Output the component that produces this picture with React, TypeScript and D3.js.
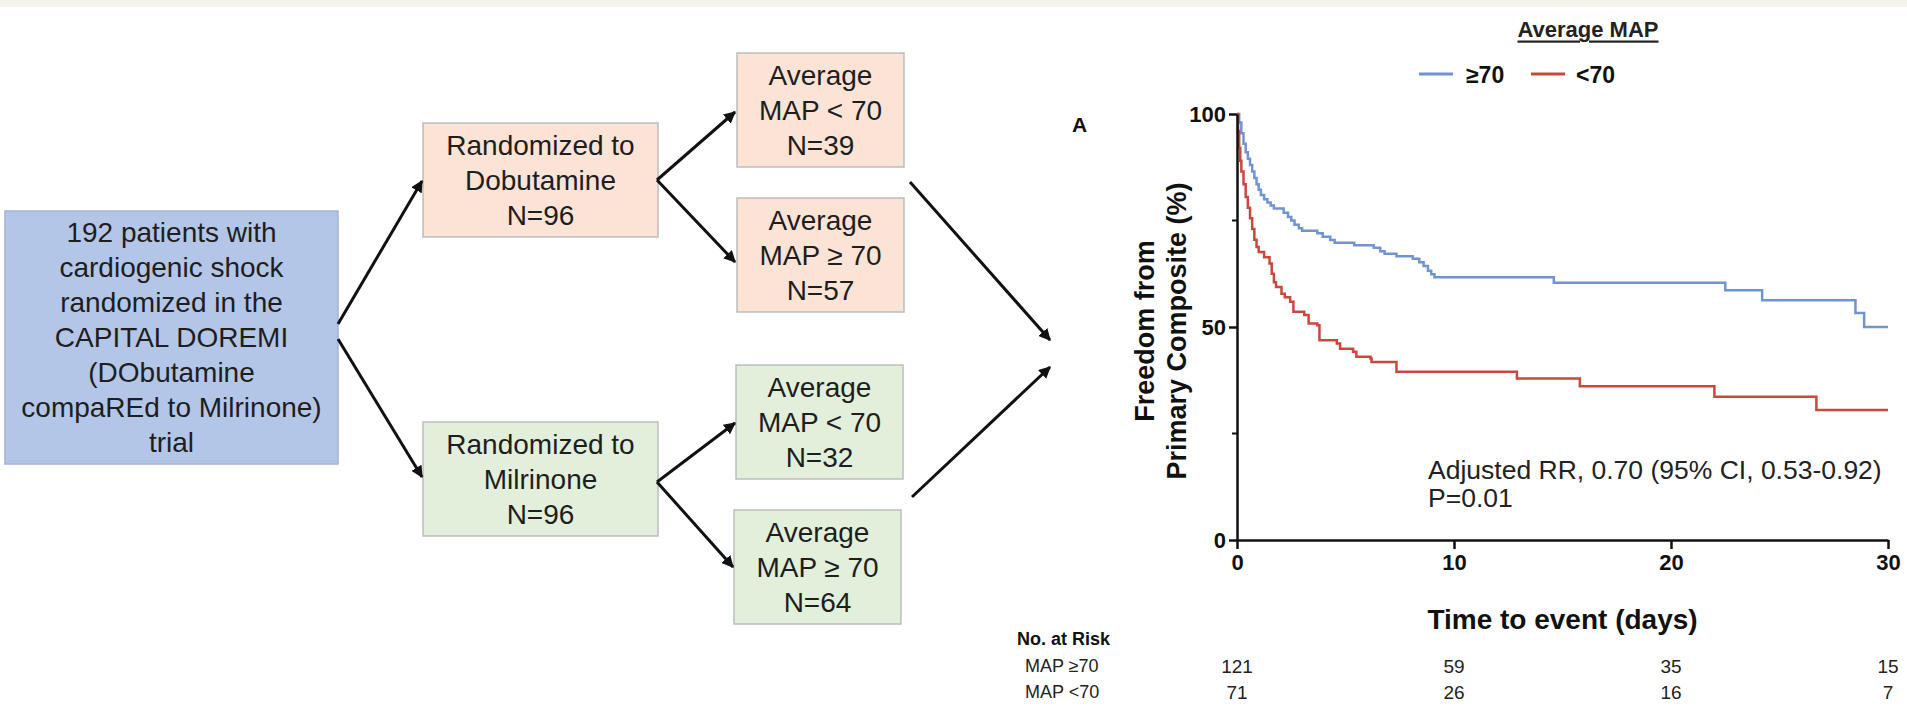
import React, { useRef, useEffect } from 'react';
import * as d3 from 'd3';

// Kaplan-Meier steps: day of each drop and freedom from event (%) after it
const highMapDays = [0, 0.1, 0.2, 0.3, 0.4, 0.5, 0.6, 0.7, 0.8, 0.9, 1.0, 1.1, 1.25, 1.4, 1.55, 1.7, 2.15, 2.35, 2.5, 2.65, 2.85, 3.0, 3.7, 3.95, 4.3, 4.5, 5.4, 6.3, 6.6, 6.8, 7.35, 8.1, 8.4, 8.6, 8.8, 8.95, 9.1, 14.6, 22.5, 24.2, 28.5, 28.9];
const highMapSurv = [100, 98, 95.5, 93, 91, 89.5, 88, 86.5, 85, 83.5, 82.2, 81, 80, 79.2, 78.5, 77.8, 76.8, 75.8, 75, 74, 73.2, 72.6, 72.0, 71.2, 70.4, 69.8, 69.2, 68.6, 67.8, 67.2, 66.6, 66.0, 65.2, 64.3, 63.2, 62.4, 61.7, 60.4, 58.6, 56.3, 53.3, 50];

const lowMapDays = [0, 0.05, 0.1, 0.15, 0.2, 0.3, 0.4, 0.5, 0.6, 0.7, 0.8, 0.9, 1.0, 1.25, 1.5, 1.6, 1.7, 1.8, 2.05, 2.2, 2.45, 2.6, 3.1, 3.3, 3.7, 3.8, 4.6, 4.75, 5.35, 5.5, 6.15, 6.2, 7.35, 12.9, 15.8, 22.0, 26.7];
const lowMapSurv = [100, 96, 92, 89, 86.5, 83.5, 80.5, 78, 75.5, 73, 70.5, 68.8, 67.6, 66.4, 64.9, 62.5, 60.5, 59.4, 57.8, 57, 55.9, 53.6, 52.8, 50.8, 50.4, 46.9, 46.1, 44.9, 44.2, 43, 42.6, 41.8, 39.5, 37.9, 36.1, 33.6, 30.5];

const xTicks = [0, 10, 20, 30];
const yTicks = [0, 50, 100];
const yMinorTicks = [25, 75];

const legendLabels = ['≥70', '<70'];
const riskLabels = ['MAP ≥70', 'MAP <70'];
const riskHigh = [121, 59, 35, 15];
const riskLow = [71, 26, 16, 7];

// flow chart text
const rootLines = ['192 patients with', 'cardiogenic shock', 'randomized in the', 'CAPITAL DOREMI', '(DObutamine', 'compaREd to Milrinone)', 'trial'];
const armLines = [
  ['Randomized to', 'Dobutamine', 'N=96'],
  ['Randomized to', 'Milrinone', 'N=96'],
];
const subgroupLines = [
  ['Average', 'MAP < 70', 'N=39'],
  ['Average', 'MAP ≥ 70', 'N=57'],
  ['Average', 'MAP < 70', 'N=32'],
  ['Average', 'MAP ≥ 70', 'N=64'],
];

const FONT = "'Liberation Sans', Arial, Helvetica, sans-serif";
const BLUE = '#7193cf';
const RED = '#c9483e';
const LINE_H = 35;

// boxes of the flow chart
const rootBox = { x: 5, y: 211, w: 333, h: 253 };
const armBoxes = [
  { x: 423, y: 123, w: 235, h: 114, fill: '#fbe3d6' },
  { x: 423, y: 422, w: 235, h: 114, fill: '#e2efda' },
];
const subBoxes = [
  { x: 737, y: 53, w: 167, h: 114, fill: '#fbe3d6' },
  { x: 737, y: 198, w: 167, h: 114, fill: '#fbe3d6' },
  { x: 736, y: 365, w: 167, h: 114, fill: '#e2efda' },
  { x: 734, y: 510, w: 167, h: 114, fill: '#e2efda' },
];
const arrows = [
  [338, 324, 422, 181],
  [338, 339, 422, 477],
  [657, 180, 735, 112],
  [657, 180, 735, 262],
  [657, 482, 735, 423],
  [657, 482, 733, 567],
  [910, 182, 1050, 340],
  [912, 497, 1050, 367],
];

const x = d3.scaleLinear().domain([0, 30]).range([1237, 1888]);
const y = d3.scaleLinear().domain([0, 100]).range([540, 114]);

const stepLine = d3
  .line<[number, number]>()
  .x((d) => x(d[0]))
  .y((d) => y(d[1]))
  .curve(d3.curveStepAfter);

const toPoints = (days: number[], surv: number[]): [number, number][] => {
  const pts = days.map((d, i) => [d, surv[i]] as [number, number]);
  pts.push([30, surv[surv.length - 1]]);
  return pts;
};

const BoxText = ({ lines, cx, cy }: { lines: string[]; cx: number; cy: number }) => (
  <text fontFamily={FONT} fontSize={28} fill="#1e1e1e" textAnchor="middle">
    {lines.map((l, i) => (
      <tspan key={i} x={cx} y={cy + (i - (lines.length - 1) / 2) * LINE_H} dominantBaseline="central">
        {l}
      </tspan>
    ))}
  </text>
);

const App = () => {
  const axesRef = useRef<SVGGElement>(null);

  useEffect(() => {
    const g = d3.select(axesRef.current);
    g.selectAll('*').remove();

    const yAxis = d3.axisLeft(y).tickValues(yTicks).tickSize(8).tickSizeOuter(0).tickPadding(3);
    const xAxis = d3.axisBottom(x).tickValues(xTicks).tickSize(9).tickSizeOuter(0).tickPadding(5);

    g.append('g').attr('transform', `translate(${x(0)},0)`).call(yAxis);
    g.append('g').attr('transform', `translate(0,${y(0)})`).call(xAxis);

    // minor ticks at 25 and 75
    g.append('g')
      .selectAll('line')
      .data(yMinorTicks)
      .join('line')
      .attr('x1', x(0) - 5)
      .attr('x2', x(0))
      .attr('y1', (d) => y(d))
      .attr('y2', (d) => y(d))
      .attr('stroke', '#111')
      .attr('stroke-width', 2);

    g.selectAll('.domain, .tick line').attr('stroke', '#111').attr('stroke-width', 2.5);
    g.selectAll('.tick text')
      .attr('font-family', FONT)
      .attr('font-size', 22)
      .attr('font-weight', 'bold')
      .attr('fill', '#111');
  }, []);

  return (
    <svg width={1907} height={707} style={{ display: 'block', background: '#fff' }}>
      <style>{`body{margin:0}`}</style>
      <defs>
        <marker id="head" viewBox="0 0 10 10" refX="9" refY="5" markerWidth="12" markerHeight="12"
          markerUnits="userSpaceOnUse" orient="auto">
          <path d="M0,0 L10,5 L0,10 z" fill="#111" />
        </marker>
      </defs>
      <rect x={0} y={0} width={1907} height={7} fill="#f3f3ea" />

      {/* flow chart */}
      <rect x={rootBox.x} y={rootBox.y} width={rootBox.w} height={rootBox.h} fill="#b4c6e7" stroke="#a3b3d3" strokeWidth={1.5} />
      <BoxText lines={rootLines} cx={rootBox.x + rootBox.w / 2} cy={rootBox.y + rootBox.h / 2} />
      {armBoxes.map((b, i) => (
        <g key={i}>
          <rect x={b.x} y={b.y} width={b.w} height={b.h} fill={b.fill} stroke="#bdbdbd" strokeWidth={1.5} />
          <BoxText lines={armLines[i]} cx={b.x + b.w / 2} cy={b.y + b.h / 2} />
        </g>
      ))}
      {subBoxes.map((b, i) => (
        <g key={i}>
          <rect x={b.x} y={b.y} width={b.w} height={b.h} fill={b.fill} stroke="#bdbdbd" strokeWidth={1.5} />
          <BoxText lines={subgroupLines[i]} cx={b.x + b.w / 2} cy={b.y + b.h / 2} />
        </g>
      ))}
      {arrows.map((a, i) => (
        <line key={i} x1={a[0]} y1={a[1]} x2={a[2]} y2={a[3]} stroke="#111" strokeWidth={3} markerEnd="url(#head)" />
      ))}

      {/* Kaplan-Meier panel */}
      <text x={1072} y={124} fontFamily={FONT} fontSize={21} fontWeight="bold" fill="#111" dominantBaseline="central">A</text>

      <text x={1588} y={29} fontFamily={FONT} fontSize={22} fontWeight="bold" fill="#222" textAnchor="middle"
        dominantBaseline="central" textDecoration="underline">Average MAP</text>
      <line x1={1419} x2={1453} y1={74} y2={74} stroke={BLUE} strokeWidth={3} />
      <text x={1466} y={75} fontFamily={FONT} fontSize={23} fontWeight="bold" fill="#111" dominantBaseline="central">{legendLabels[0]}</text>
      <line x1={1531} x2={1565} y1={74} y2={74} stroke={RED} strokeWidth={3} />
      <text x={1576} y={75} fontFamily={FONT} fontSize={23} fontWeight="bold" fill="#111" dominantBaseline="central">{legendLabels[1]}</text>

      <path d={stepLine(toPoints(highMapDays, highMapSurv)) ?? ''} fill="none" stroke={BLUE} strokeWidth={2.5} />
      <path d={stepLine(toPoints(lowMapDays, lowMapSurv)) ?? ''} fill="none" stroke={RED} strokeWidth={2.5} />

      <g ref={axesRef} />

      <text transform="translate(1145,331) rotate(-90)" fontFamily={FONT} fontSize={27} fontWeight="bold" fill="#111"
        textAnchor="middle" dominantBaseline="central">Freedom from</text>
      <text transform="translate(1177,331) rotate(-90)" fontFamily={FONT} fontSize={27} fontWeight="bold" fill="#111"
        textAnchor="middle" dominantBaseline="central">Primary Composite (%)</text>

      <text x={x(15)} y={619} fontFamily={FONT} fontSize={28} fontWeight="bold" fill="#111" textAnchor="middle"
        dominantBaseline="central">Time to event (days)</text>

      <text x={1428} y={470} fontFamily={FONT} fontSize={26.5} fill="#222" dominantBaseline="central">
        Adjusted RR, 0.70 (95% CI, 0.53-0.92)
      </text>
      <text x={1428} y={498} fontFamily={FONT} fontSize={26.5} fill="#222" dominantBaseline="central">P=0.01</text>

      {/* number at risk table */}
      <text x={1017} y={639} fontFamily={FONT} fontSize={18} fontWeight="bold" fill="#111" dominantBaseline="central">No. at Risk</text>
      {riskLabels.map((l, i) => (
        <text key={l} x={1025} y={666 + i * 26} fontFamily={FONT} fontSize={18} fill="#222" dominantBaseline="central">{l}</text>
      ))}
      {[riskHigh, riskLow].map((row, r) =>
        row.map((v, i) => (
          <text key={`${r}-${i}`} x={x(xTicks[i])} y={666 + r * 26} fontFamily={FONT} fontSize={19} fill="#222"
            textAnchor="middle" dominantBaseline="central">{v}</text>
        ))
      )}
    </svg>
  );
};

export default App;
